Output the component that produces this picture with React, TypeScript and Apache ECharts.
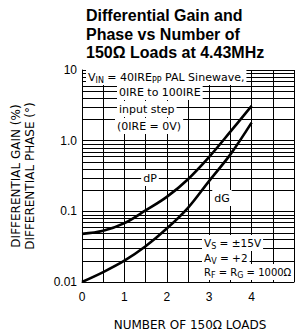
import React, { useEffect, useRef } from "react";
import * as echarts from "echarts";

// Number of 150Ω loads
const loads = [0, 0.5, 1, 1.5, 2, 2.5, 3, 3.5, 4];
// Differential phase (°)
const dPValues = [0.048, 0.053, 0.068, 0.103, 0.16, 0.285, 0.59, 1.34, 3.1];
// Differential gain (%)
const dGValues = [0.01, 0.0138, 0.02, 0.032, 0.057, 0.112, 0.27, 0.64, 1.8];
// minor log gridlines
const minorGridValues = [
  0.02, 0.03, 0.04, 0.05, 0.06, 0.07, 0.08, 0.09,
  0.2, 0.3, 0.4, 0.5, 0.6, 0.7, 0.8, 0.9,
  2, 3, 4, 5, 6, 7, 8, 9,
];
const xRange = [0, 5];
const yTickLabels = ["0.01", "0.1", "1.0", "10"];
const xTickLabels = ["0", "1", "2", "3", "4"];

const titleText = "Differential Gain and\nPhase vs Number of\n150Ω Loads at 4.43MHz";
const xName = "NUMBER OF 150Ω LOADS";
const yName1 = "DIFFERENTIAL GAIN (%)";
const yName2 = "DIFFERENTIAL PHASE (°)";

const ANN_FONT = "DejaVu Sans";

function ann(x: number, y: number, text: string, align: string = "left", size = 11) {
  return {
    type: "text",
    x,
    y,
    z: 100,
    silent: true,
    style: {
      text,
      fill: "#000",
      fontSize: size,
      fontFamily: ANN_FONT,
      align,
      verticalAlign: "middle",
      backgroundColor: "#fff",
      padding: [1, 2, 1, 2],
      lineHeight: 14,
      rich: {
        s: {
          fontSize: 8,
          fontFamily: ANN_FONT,
          verticalAlign: "bottom",
          lineHeight: 8,
          fill: "#000",
        },
      },
    },
  };
}

export default function App() {
  const ref = useRef<HTMLDivElement>(null);
  useEffect(() => {
    if (!ref.current) return;
    const chart = echarts.init(ref.current, null, { renderer: "svg" });
    const pairs = (ys: number[]) => loads.map((x, i) => [x, ys[i]]);
    chart.setOption({
      animation: false,
      backgroundColor: "#fff",
      title: {
        text: titleText,
        left: 86,
        top: 6,
        padding: 0,
        textStyle: {
          fontSize: 16,
          fontWeight: "bold",
          fontFamily: "Liberation Sans",
          lineHeight: 18.7,
          color: "#000",
        },
      },
      grid: { left: 82, right: -2, top: 70, bottom: 53 },
      xAxis: {
        type: "value",
        min: xRange[0],
        max: xRange[1],
        interval: 0.5,
        axisLine: { show: true, lineStyle: { color: "#000", width: 1 } },
        axisTick: { show: false },
        splitLine: { show: true, lineStyle: { color: "#000", width: 1 } },
        axisLabel: {
          margin: 9,
          color: "#000",
          fontSize: 12,
          fontFamily: "Liberation Sans",
          formatter: (v: number) => {
            const r = Math.round(v);
            return Math.abs(v - r) < 1e-6 && r >= 0 && r < xTickLabels.length ? xTickLabels[r] : "";
          },
        },
      },
      yAxis: {
        type: "log",
        logBase: 10,
        min: 0.01,
        max: 10,
        axisLine: { show: true, lineStyle: { color: "#000", width: 1 } },
        axisTick: { show: false },
        splitLine: { show: true, lineStyle: { color: "#000", width: 1 } },
        axisLabel: {
          margin: 5,
          color: "#000",
          fontSize: 12,
          fontFamily: "Liberation Sans",
          formatter: (v: number) => {
            const e = Math.round(Math.log10(v)) + 2;
            return yTickLabels[e] ?? "";
          },
        },
      },
      series: [
        {
          type: "custom",
          silent: true,
          z: 1,
          data: minorGridValues.map((v) => [xRange[0], v]),
          encode: { x: 0, y: 1 },
          renderItem: (params: any, api: any) => {
            const v = api.value(1);
            const p1 = api.coord([xRange[0], v]);
            const p2 = api.coord([xRange[1], v]);
            const y = Math.round(p1[1]) + 0.5;
            return {
              type: "line",
              shape: { x1: p1[0], y1: y, x2: p2[0], y2: y },
              style: { stroke: "#000", lineWidth: 1 },
            };
          },
        },
        {
          type: "line",
          name: "dP",
          data: pairs(dPValues),
          smooth: 0.35,
          showSymbol: false,
          symbol: "none",
          lineStyle: { color: "#000", width: 2.6 },
          z: 5,
        },
        {
          type: "line",
          name: "dG",
          data: pairs(dGValues),
          smooth: 0.35,
          showSymbol: false,
          symbol: "none",
          lineStyle: { color: "#000", width: 2.6 },
          z: 5,
        },
      ],
      graphic: [
        ann(86, 77, "V{s|IN} = 40IRE{s|PP} PAL Sinewave,"),
        ann(117, 92, "0IRE to 100IRE"),
        ann(117, 109, "input step"),
        ann(115, 126, "(0IRE = 0V)"),
        ann(150, 178, "dP", "center"),
        ann(222, 198, "dG", "center"),
        ann(202, 243, "V{s|S} = ±15V", "left", 10.5),
        ann(202, 258, "A{s|V} = +2", "left", 10.5),
        ann(202, 272, "R{s|F} = R{s|G} = 1000Ω", "left", 10),
        {
          type: "text",
          x: 190,
          y: 325,
          silent: true,
          style: {
            text: xName,
            fill: "#000",
            fontSize: 12,
            fontFamily: ANN_FONT,
            align: "center",
            verticalAlign: "middle",
          },
        },
        {
          type: "text",
          x: 16,
          y: 176,
          rotation: Math.PI / 2,
          silent: true,
          style: {
            text: yName1,
            fill: "#000",
            fontSize: 12,
            fontFamily: ANN_FONT,
            align: "center",
            verticalAlign: "middle",
          },
        },
        {
          type: "text",
          x: 30,
          y: 176,
          rotation: Math.PI / 2,
          silent: true,
          style: {
            text: yName2,
            fill: "#000",
            fontSize: 12,
            fontFamily: ANN_FONT,
            align: "center",
            verticalAlign: "middle",
          },
        },
      ],
    });
    return () => chart.dispose();
  }, []);
  return (
    <div
      ref={ref}
      style={{ position: "fixed", left: 0, top: 0, width: 297, height: 335, background: "#fff" }}
    />
  );
}
